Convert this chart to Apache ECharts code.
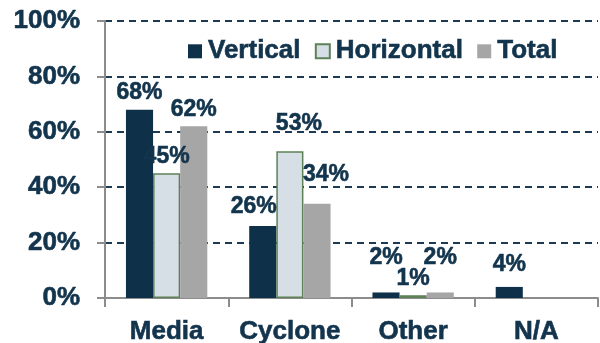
<!DOCTYPE html>
<html>
<head>
<meta charset="utf-8">
<script src="https://cdn.jsdelivr.net/npm/echarts@6/dist/echarts.min.js"></script>
<style>html,body{margin:0;padding:0;background:#fff}#c{width:600px;height:343px}</style>
</head>
<body>
<div id="c"></div>
<script>
const categories = ['Media', 'Cyclone', 'Other', 'N/A'];
const vertical = [68, 26, 2, 4];
const horizontal = [45, 53, 1, null];
const total = [62, 34, 2, null];
const yTicks = [0, 20, 40, 60, 80, 100];

const TEXT = '#12344d';
const FONT = '"Liberation Sans", Arial, sans-serif';

// manual label nudges (as in the original, where some labels were moved)
const vOff = [[0,0],[-9,-3],[0,-18],[0,-6]];
const hOff = [[0,0],[9,-11],[0,0],[0,0]];
const tOff = [[0,0],[9,-13],[0,-18],[0,0]];

function items(vals, offs) {
  return vals.map((v, i) => ({ value: v, label: { offset: offs[i] } }));
}

const bold = { fontFamily: FONT, fontWeight: 'bold', color: TEXT, textBorderColor: TEXT, textBorderWidth: 0.6 };

const labelBase = Object.assign({
  show: true, position: 'top', distance: 5, fontSize: 23,
  formatter: p => p.value == null ? '' : p.value + '%'
}, bold);

const chart = echarts.init(document.getElementById('c'));
chart.setOption({
  animation: false,
  textStyle: { fontFamily: FONT },
  grid: { left: 105, right: 2, top: 21, bottom: 45, containLabel: false, outerBoundsMode: 'none' },
  legend: {
    left: 183, top: 33, itemGap: 14, itemWidth: 14, itemHeight: 14,
    icon: 'rect',
    textStyle: Object.assign({ fontSize: 26, padding: [0,0,0,1] }, bold),
    data: ['Vertical', 'Horizontal', 'Total']
  },
  xAxis: {
    type: 'category', data: categories,
    axisLine: { lineStyle: { color: '#8c8c8c', width: 2 } },
    axisTick: { show: true, length: 9, lineStyle: { color: '#8c8c8c', width: 2 } },
    axisLabel: Object.assign({ interval: 0, fontSize: 26, margin: 21 }, bold)
  },
  yAxis: {
    type: 'value', min: yTicks[0], max: yTicks[yTicks.length - 1], interval: 20,
    axisLine: { show: true, lineStyle: { color: '#8c8c8c', width: 2 } },
    axisTick: { show: true, length: 8, lineStyle: { color: '#8c8c8c', width: 2 } },
    axisLabel: Object.assign({ fontSize: 26, margin: 25, formatter: '{value}%' }, bold),
    splitLine: { show: true, lineStyle: { color: '#1c3a55', width: 2, type: [7, 5] } }
  },
  series: [
    { name: 'Vertical', type: 'bar', data: items(vertical, vOff), barGap: '0%', barCategoryGap: '34%',
      itemStyle: { color: '#0f3049' }, label: labelBase },
    { name: 'Horizontal', type: 'bar', data: items(horizontal, hOff), barGap: '0%', barCategoryGap: '34%',
      itemStyle: { color: '#d6dee6', borderColor: '#5e8158', borderWidth: 1.5 }, label: labelBase },
    { name: 'Total', type: 'bar', data: items(total, tOff), barGap: '0%', barCategoryGap: '34%',
      itemStyle: { color: '#a6a6a6' }, label: labelBase }
  ]
});
</script>
</body>
</html>
